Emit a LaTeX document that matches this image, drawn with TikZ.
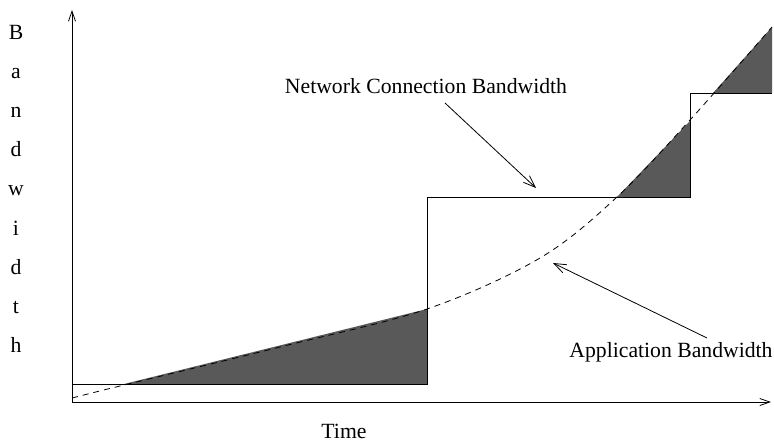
\documentclass[tikz,border=0pt]{standalone}
\usepackage{fontspec}
\setmainfont{Liberation Serif}
\usetikzlibrary{arrows.meta}
\begin{document}
\begin{tikzpicture}[x=1pt,y=-1pt,
  lbl/.style={inner sep=0pt,anchor=base,font=\fontsize{21.7}{26}\selectfont},
  axis/.style={line width=1pt,-{Straight Barb[length=10pt,width=7pt,line width=0.8pt]}},
  pointer/.style={line width=0.8pt,-{Straight Barb[length=12pt,width=9pt,line width=0.8pt]}},
  stepline/.style={line width=1pt,black},
  shade/.style={fill=black!65},
  appcurve/.style={line width=0.8pt,dash pattern=on 6pt off 5pt}]
\useasboundingbox (0,0) rectangle (774,445);
% shaded regions
\fill[shade] (124,384) -- (427,309) -- (427,384) -- cycle;
\fill[shade] (617,197) -- (690,121) -- (690,197) -- cycle;
\fill[shade] (713,93) -- (772,27) -- (772,93) -- cycle;
% axes
\coordinate (o) at (72,403);
\coordinate (ytop) at (72,10);
\coordinate (xend) at (771,402);
\draw[axis] (o) -- (ytop);
\draw[axis] (o |- xend) -- (xend);
% network connection bandwidth (step)
\draw[stepline] (72,384) -- (427,384) -- (427,197) -- (690,197) -- (690,93) -- (772,93);
% application bandwidth (dashed curve)
\draw[appcurve] plot[smooth,tension=0.55] coordinates
  {(72,398) (120,386) (280,347) (427,309) (540,258) (617,197) (690,120) (772,27)};
% labels
\node[lbl] (net) at (426,93) {Network Connection Bandwidth};
\node[lbl] (app) at (671,357) {Application Bandwidth};
\node[lbl] (time) at (344,438) {Time};
\coordinate (netfrom) at (445,103);
\coordinate (netto) at (536,188);
\coordinate (appfrom) at (707,338);
\coordinate (appto) at (553,263);
\draw[pointer] (netfrom) -- (netto);
\draw[pointer] (appfrom) -- (appto);
% vertical axis label
\foreach \ch [count=\i from 0] in {B,a,n,d,w,i,d,t,h}
  \node[lbl] (y\i) at (16,39+39.2*\i) {\ch};
\end{tikzpicture}
\end{document}
